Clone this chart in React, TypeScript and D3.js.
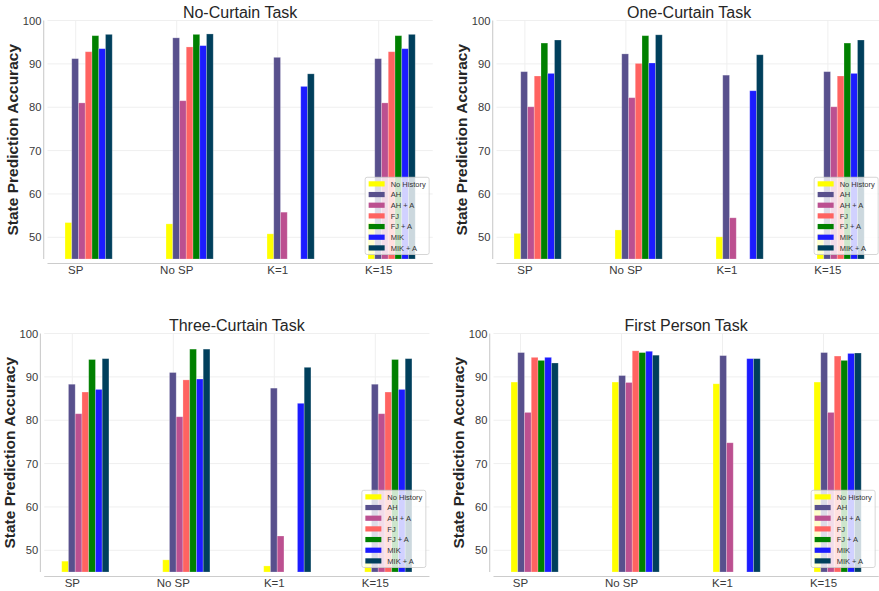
import React from "react";
import * as d3 from "d3";

const categories = ["SP", "No SP", "K=1", "K=15"];
const seriesNames = ["No History", "AH", "AH + A", "FJ", "FJ + A", "MIK", "MIK + A"];
const seriesColors = ["#ffff00", "#58508d", "#bc5090", "#ff6361", "#008000", "#1c1cff", "#003f5c"];
const yTicks = [50, 60, 70, 80, 90, 100];

// rows = series, columns = categories (null = no bar)
const noCurtain: (number | null)[][] = [
  [53.4, 53.1, 50.8, 53.4],
  [91.2, 96.0, 91.5, 91.2],
  [81.0, 81.5, 55.8, 81.0],
  [92.8, 93.9, null, 92.8],
  [96.5, 96.8, null, 96.5],
  [93.5, 94.2, 84.8, 93.5],
  [96.8, 96.9, 87.7, 96.8],
];
const oneCurtain: (number | null)[][] = [
  [50.9, 51.7, 50.1, 50.9],
  [88.2, 92.3, 87.4, 88.2],
  [80.1, 82.2, 54.5, 80.1],
  [87.2, 90.1, null, 87.2],
  [94.8, 96.5, null, 94.8],
  [87.8, 90.2, 83.8, 87.8],
  [95.5, 96.7, 92.1, 95.5],
];
const threeCurtain: (number | null)[][] = [
  [47.5, 47.8, 46.4, 47.5],
  [88.3, 91.0, 87.4, 88.3],
  [81.5, 80.8, 53.3, 81.5],
  [86.5, 89.3, null, 86.5],
  [94.0, 96.4, null, 94.0],
  [87.1, 89.5, 83.9, 87.1],
  [94.2, 96.4, 92.2, 94.2],
];
const firstPerson: (number | null)[][] = [
  [88.8, 88.8, 88.4, 88.8],
  [95.6, 90.3, 94.9, 95.6],
  [81.8, 88.7, 74.8, 81.8],
  [94.5, 96.0, null, 94.8],
  [93.8, 95.6, null, 93.8],
  [94.5, 95.9, 94.2, 95.4],
  [93.2, 95.0, 94.2, 95.5],
];

const titles = ["No-Curtain Task", "One-Curtain Task", "Three-Curtain Task", "First Person Task"];
const panelData = [noCurtain, oneCurtain, threeCurtain, firstPerson];

// layout
const layouts = [
  { left: 47.5, top: 20.5, bottom: 259, tickOff: 0.106 },
  { left: 496.5, top: 20.5, bottom: 259, tickOff: 0.108 },
  { left: 44.2, top: 333.5, bottom: 572, tickOff: 0.105 },
  { left: 493.5, top: 333.5, bottom: 572, tickOff: 0.094 },
];

const FONT = "'Liberation Sans', Arial, Helvetica, sans-serif";
const BAR_W = 0.0668;
const UNIT = 101;

function Panel({ idx }: { idx: number }) {
  const L = layouts[idx];
  const data = panelData[idx];
  const span = (categories.length - 1) + seriesNames.length * BAR_W;
  const m = span * 0.05;
  const xDomain: [number, number] = [-m, span + m];
  const right = L.left + (xDomain[1] - xDomain[0]) * UNIT;
  const x = d3.scaleLinear().domain(xDomain).range([L.left, right]);
  const y = d3.scaleLinear().domain([45, 100]).range([L.bottom, L.top]);

  const legW = 64;
  const rowH = 10.67;
  const legH = 6.6 * 2 + (seriesNames.length - 1) * rowH;
  const legRight = right - 3.6;
  const legX = legRight - legW;
  const legY = L.bottom - 4.5 - legH;

  return (
    <g>
      {/* grid */}
      {yTicks.map((t) => (
        <line key={"gy" + t} x1={L.left} x2={right} y1={y(t)} y2={y(t)} stroke="#efefef" strokeWidth={1} />
      ))}
      {categories.map((c, ci) => (
        <line key={"gx" + c} x1={x(ci + L.tickOff)} x2={x(ci + L.tickOff)} y1={y(100)} y2={L.bottom} stroke="#efefef" strokeWidth={1} />
      ))}
      {/* bars */}
      {data.map((row, si) =>
        row.map((v, ci) =>
          v == null ? null : (
            <rect
              key={`b${si}-${ci}`}
              x={x(ci + si * BAR_W)}
              width={x(ci + (si + 1) * BAR_W) - x(ci + si * BAR_W)}
              y={y(v)}
              height={L.bottom - y(v)}
              fill={seriesColors[si]}
              stroke="#ffffff"
              strokeOpacity={0.3}
              strokeWidth={0.8}
            />
          )
        )
      )}
      {/* spines */}
      <line x1={L.left - 3.8} x2={L.left - 3.8} y1={L.top} y2={L.bottom} stroke="#cccccc" strokeWidth={1.1} />
      <line x1={L.left} x2={right} y1={L.bottom + 4.5} y2={L.bottom + 4.5} stroke="#cccccc" strokeWidth={1.1} />
      {/* y tick labels */}
      {yTicks.map((t) => (
        <text key={"ty" + t} x={L.left - 6} y={y(t)} dy="0.36em" textAnchor="end" fontSize={11.2} fill="#3a3a3a" fontFamily={FONT}>
          {t}
        </text>
      ))}
      {/* x tick labels */}
      {categories.map((c, ci) => (
        <text key={"tx" + c} x={x(ci + L.tickOff)} y={L.bottom + 14.8} textAnchor="middle" fontSize={11.5} fill="#3a3a3a" fontFamily={FONT}>
          {c}
        </text>
      ))}
      {/* title */}
      <text x={(L.left + right) / 2} y={L.top - 3} textAnchor="middle" fontSize={16} fill="#262626" fontFamily={FONT}>
        {titles[idx]}
      </text>
      {/* y label */}
      <text
        transform={`translate(${L.left - 29.2},${(L.top + L.bottom) / 2}) rotate(-90)`}
        textAnchor="middle"
        fontSize={15.5}
        fontWeight="bold"
        fill="#262626"
        fontFamily={FONT}
      >
        State Prediction Accuracy
      </text>
      {/* legend */}
      <g>
        <rect x={legX} y={legY} width={legW} height={legH} rx={2} fill="#ffffff" fillOpacity={0.8} stroke="#cccccc" strokeWidth={0.8} />
        {seriesNames.map((s, si) => {
          const cy = legY + 6.6 + si * rowH;
          return (
            <g key={"lg" + s}>
              <rect x={legX + 3.5} y={cy - 2.6} width={16} height={5.2} fill={seriesColors[si]} />
              <text x={legX + 25.5} y={cy} dy="0.35em" fontSize={7.5} fill="#333333" fontFamily={FONT}>
                {s}
              </text>
            </g>
          );
        })}
      </g>
    </g>
  );
}

export default function App() {
  return (
    <svg width={879} height={591} style={{ position: "absolute", left: 0, top: 0, background: "#ffffff" }}>
      <rect x={0} y={0} width={879} height={591} fill="#ffffff" />
      {panelData.map((_, i) => (
        <Panel key={i} idx={i} />
      ))}
    </svg>
  );
}
